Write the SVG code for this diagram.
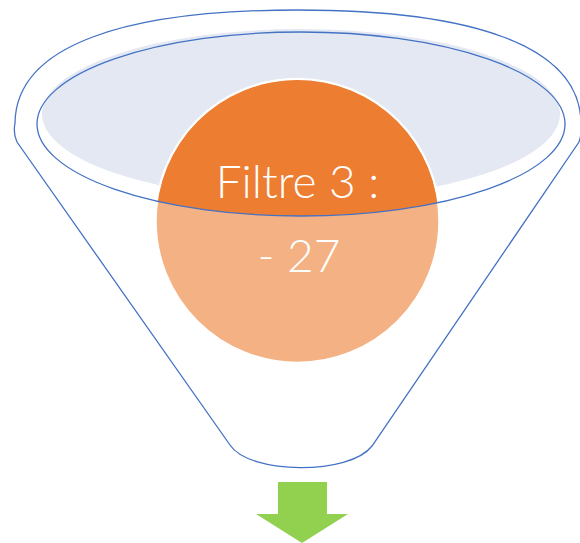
<svg xmlns="http://www.w3.org/2000/svg" width="580" height="543" viewBox="0 0 580 543">
  <style>
    .outline { fill: none; stroke: #4472C4; stroke-width: 1.3; }
    .lbl { fill: #FFFFFF; font-family: Lato, Inter, "Open Sans", "Liberation Sans", sans-serif; font-weight: 300; font-size: 46px; text-anchor: middle; }
  </style>
  <defs>
    <clipPath id="innerClip">
      <ellipse cx="301" cy="124" rx="264" ry="92"/>
    </clipPath>
  </defs>
  <rect width="580" height="543" fill="#FFFFFF"/>
  <g id="funnel">
    <path class="outline" d="M 17,142 Q 13,134 15,123 C 16,45 125,10 298,10 C 471,10 580,45 581,123 Q 582,134 579,142 L 372,446 C 350,475 250,475 230,445 Z"/>
    <ellipse cx="301" cy="114" rx="259" ry="85" fill="#E3E8F3"/>
  </g>
  <g id="filter3">
    <circle cx="297.5" cy="221" r="142" fill="#F4B183" stroke="#FFFFFF" stroke-width="2.5"/>
    <circle cx="297.5" cy="221" r="141" fill="#ED7D31" clip-path="url(#innerClip)"/>
    <ellipse class="outline" cx="301" cy="124" rx="264" ry="92"/>
    <text class="lbl" x="297.5" y="198">Filtre 3 :</text>
    <text class="lbl" x="299" y="272">- 27</text>
  </g>
  <g id="arrow">
    <polygon points="278,482 327,482 327,514 348,514 302,543 256,514 278,514" fill="#92D050"/>
  </g>
</svg>
